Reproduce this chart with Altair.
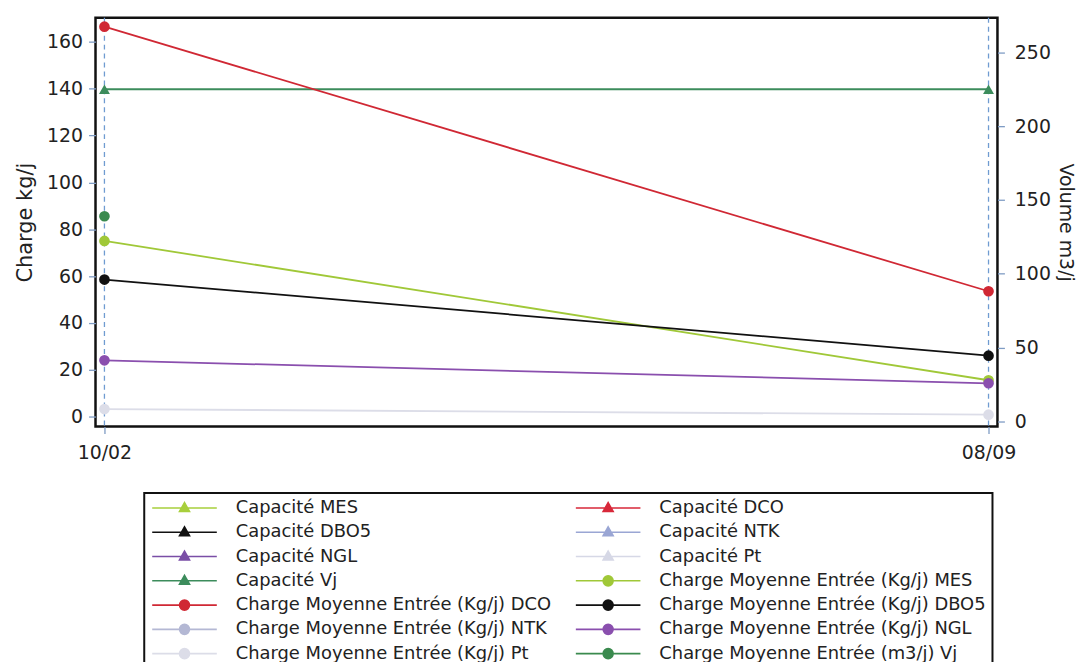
import altair as alt
import pandas as pd

dates = ["10/02", "08/09"]

# legend order (the legend fills its two columns top to bottom)
series_names = [
    "Capacité MES", "Capacité DBO5", "Capacité NGL", "Capacité Vj",
    "Charge Moyenne Entrée (Kg/j) DCO", "Charge Moyenne Entrée (Kg/j) NTK",
    "Charge Moyenne Entrée (Kg/j) Pt",
    "Capacité DCO", "Capacité NTK", "Capacité Pt",
    "Charge Moyenne Entrée (Kg/j) MES", "Charge Moyenne Entrée (Kg/j) DBO5",
    "Charge Moyenne Entrée (Kg/j) NGL", "Charge Moyenne Entrée (m3/j) Vj",
]
series_colors = [
    "#a8cf3c", "#111111", "#7a4ea6", "#3c8c5c",
    "#d02834", "#b4b8d4", "#dcdde8",
    "#d8283a", "#9aa6d4", "#d6d8e6",
    "#a0c838", "#111111", "#8a4fae", "#3a8a4e",
]
TRI = "M-4.64,0L4.64,0M0,-0.79L0.72,0.5L-0.72,0.5Z"
CIRC = "M-4.64,0L4.64,0M0.72,0A0.72,0.72,0,1,1,-0.72,0A0.72,0.72,0,1,1,0.72,0Z"
series_shapes = [TRI, TRI, TRI, TRI, CIRC, CIRC, CIRC,
                 TRI, TRI, TRI, CIRC, CIRC, CIRC, CIRC]

# values (left axis: kg/j, right axis: m3/j)
charge_mes = [75, 15.5]
charge_dco = [166.5, 53.5]
charge_dbo5 = [58.5, 26]
charge_ngl = [24, 14.2]
charge_pt = [3.2, 0.8]
capacite_vj = [225, 225]
charge_vj = [139, None]

left_series = {
    "Charge Moyenne Entrée (Kg/j) Pt": charge_pt,
    "Charge Moyenne Entrée (Kg/j) MES": charge_mes,
    "Charge Moyenne Entrée (Kg/j) NGL": charge_ngl,
    "Charge Moyenne Entrée (Kg/j) DBO5": charge_dbo5,
    "Charge Moyenne Entrée (Kg/j) DCO": charge_dco,
}
right_series = {
    "Capacité Vj": capacite_vj,
    "Charge Moyenne Entrée (m3/j) Vj": charge_vj,
}


def to_df(d):
    rows = []
    for name, vals in d.items():
        for dt, v in zip(dates, vals):
            if v is not None:
                rows.append({"date": dt, "series": name, "value": v})
    return pd.DataFrame(rows)


left_df = to_df(left_series)
right_df = to_df(right_series)
dates_df = pd.DataFrame({"date": dates})
legend_df = pd.DataFrame({"series": series_names})

# colour scale for the drawn marks (only the series that have values)
drawn = list(right_series) + list(left_series)
drawn_colors = [series_colors[series_names.index(s)] for s in drawn]

FONT = "DejaVu Sans"

x_enc = alt.X(
    "date:O", sort=dates, title=None,
    scale=alt.Scale(type="point", padding=0.0101),
    axis=alt.Axis(labelAngle=0, tickSize=7, labelPadding=10, domain=False),
)

color_nolegend = alt.Color(
    "series:N", legend=None,
    scale=alt.Scale(domain=drawn, range=drawn_colors),
)

leg = alt.Legend(
    title=None, orient="none", legendX=49, legendY=478, columns=2,
    symbolSize=196, symbolOffset=25.5, symbolStrokeWidth=1.6, symbolOpacity=1,
    labelOffset=42.5, labelFont=FONT, labelFontSize=18, labelColor="#222222",
    labelLimit=600, columnPadding=20, rowPadding=6.4, padding=6,
    strokeColor="#111111",
)

left_scale = alt.Scale(domain=[-4.25, 170.3], nice=False, zero=False)
right_scale = alt.Scale(domain=[-3.4, 273.4], nice=False, zero=False)

left_y = alt.Y(
    "value:Q", scale=left_scale, title="Charge kg/j",
    axis=alt.Axis(orient="left", values=list(range(0, 161, 20)), tickSize=7,
                  labelPadding=6, titlePadding=11, titleFontSize=21,
                  domain=False, grid=False),
)
left_y_plain = alt.Y("value:Q", scale=left_scale)
right_y = alt.Y(
    "value:Q", scale=right_scale, title="Volume m3/j",
    axis=alt.Axis(orient="right", values=list(range(0, 251, 50)), tickSize=7,
                  labelPadding=10, titlePadding=5, titleFontSize=19,
                  domain=False, grid=False),
)
right_y_plain = alt.Y("value:Q", scale=right_scale)

rules = alt.Chart(dates_df).mark_rule(
    color="#6f9bd1", strokeDash=[5, 4], strokeWidth=1.3
).encode(x=x_enc)

left_lines = alt.Chart(left_df).mark_line(strokeWidth=1.8).encode(
    x=x_enc, y=left_y, color=color_nolegend
)
left_points = alt.Chart(left_df).mark_point(
    filled=True, shape="circle", size=115, opacity=1
).encode(x=x_enc, y=left_y_plain, color=color_nolegend)

legend_layer = alt.Chart(legend_df).mark_point(
    filled=True, opacity=1, strokeWidth=1.6
).encode(
    fill=alt.Fill("series:N", legend=leg,
                  scale=alt.Scale(domain=series_names, range=series_colors)),
    stroke=alt.Stroke("series:N", legend=leg,
                      scale=alt.Scale(domain=series_names, range=series_colors)),
    shape=alt.Shape("series:N", legend=leg,
                    scale=alt.Scale(domain=series_names, range=series_shapes)),
).transform_filter("false")

right_lines = alt.Chart(right_df).transform_filter(
    alt.datum.series == "Capacité Vj"
).mark_line(strokeWidth=1.8).encode(x=x_enc, y=right_y, color=color_nolegend)
right_tri = alt.Chart(right_df).transform_filter(
    alt.datum.series == "Capacité Vj"
).mark_point(filled=True, shape="triangle-up", size=120, opacity=1).encode(
    x=x_enc, y=right_y_plain, color=color_nolegend
)
right_circ = alt.Chart(right_df).transform_filter(
    alt.datum.series != "Capacité Vj"
).mark_point(filled=True, shape="circle", size=115, opacity=1).encode(
    x=x_enc, y=right_y_plain, color=color_nolegend
)

right_group = alt.layer(right_lines, right_tri, right_circ)
left_group = alt.layer(left_lines, left_points)

chart = alt.layer(rules, right_group, left_group, legend_layer).resolve_scale(
    y="independent"
).properties(
    width=907, height=411,
    padding={"left": 88, "top": 8, "right": 82, "bottom": 235},
    autosize=alt.AutoSizeParams(type="none"),
).configure_view(
    stroke="#111111", strokeWidth=2.5
).configure_axis(
    labelFont=FONT, labelFontSize=19, labelColor="#222222",
    tickColor="#7f9cc4", tickWidth=1.3,
    titleFont=FONT, titleFontSize=19, titleFontWeight="normal",
    titleColor="#222222", grid=False,
).configure_legend(
    strokeWidth=2
)

chart.save("out.html", embed_options={"renderer": "svg", "actions": False})
